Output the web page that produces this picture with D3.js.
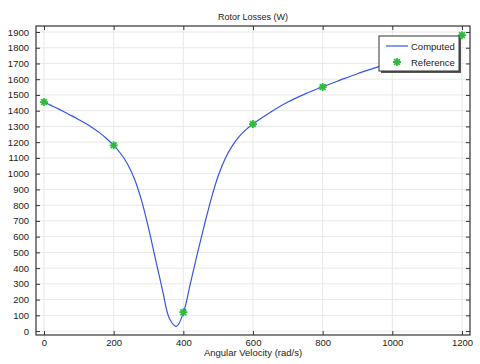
<!DOCTYPE html>
<html>
<head>
<meta charset="utf-8">
<script src="https://cdn.jsdelivr.net/npm/d3@7"></script>
<style>
  body { margin: 0; background: #fff; }
  text { font-family: "Liberation Sans", Arial, sans-serif; fill: #222; }
</style>
</head>
<body>
<div id="chart"></div>
<script>
// computed curve (rad/s -> W)
const computedX = [0, 20, 40, 60, 80, 100, 120, 140, 160, 180, 200, 220, 240, 260, 280, 300, 320, 340, 360, 380,
  400, 420, 440, 460, 480, 500, 520, 540, 560, 580, 600, 650, 700, 750, 800, 850, 900, 950, 1000, 1050, 1100, 1150, 1200];
const computedY = [1455, 1434, 1413, 1390, 1367, 1343, 1318, 1290, 1259, 1222, 1180, 1128, 1060, 965, 830, 655, 457, 262, 80, 30,
  115, 300, 490, 670, 840, 985, 1095, 1175, 1235, 1280, 1315, 1390, 1455, 1507, 1552, 1594, 1635, 1672, 1710, 1752, 1795, 1838, 1880];
// reference points
const refX = [0, 200, 400, 600, 800, 1200];
const refY = [1455, 1180, 120, 1315, 1550, 1880];

const xTicks = [0, 200, 400, 600, 800, 1000, 1200];
const yTicks = d3.range(0, 1901, 100);

const width = 480, height = 364;
const margin = {top: 26, right: 10, bottom: 29, left: 36};
const w = width - margin.left - margin.right;
const h = height - margin.top - margin.bottom;

const svg = d3.select('#chart').append('svg')
    .attr('width', width)
    .attr('height', height);

const g = svg.append('g')
    .attr('transform', 'translate(' + margin.left + ',' + margin.top + ')');

const xScale = d3.scaleLinear().domain([-23, 1223]).range([0, w]);
const yScale = d3.scaleLinear().domain([-25, 1938]).range([h, 0]);

// grid
g.append('g').selectAll('line').data(xTicks).join('line')
    .attr('x1', d => xScale(d)).attr('x2', d => xScale(d))
    .attr('y1', 0).attr('y2', h)
    .attr('stroke', '#e8e8e8');
g.append('g').selectAll('line').data(yTicks).join('line')
    .attr('x1', 0).attr('x2', w)
    .attr('y1', d => yScale(d)).attr('y2', d => yScale(d))
    .attr('stroke', '#e8e8e8');

// axes (ticks inward)
const fmt = d3.format('d');
const axisStyle = sel => {
  sel.select('.domain').remove();
  sel.selectAll('line').attr('stroke', '#333');
  sel.selectAll('text').style('font-size', '9.5px').attr('fill', '#222');
};
g.append('g').attr('transform', 'translate(0,' + h + ')')
    .call(d3.axisBottom(xScale).tickValues(xTicks).tickFormat(fmt).tickSizeInner(-4).tickPadding(4))
    .call(axisStyle);
g.append('g')
    .call(d3.axisLeft(yScale).tickValues(yTicks).tickFormat(fmt).tickSizeInner(-4).tickPadding(7))
    .call(axisStyle);
g.append('g')
    .call(d3.axisTop(xScale).tickValues(xTicks).tickFormat('').tickSizeInner(-4))
    .call(axisStyle);
g.append('g').attr('transform', 'translate(' + w + ',0)')
    .call(d3.axisRight(yScale).tickValues(yTicks).tickFormat('').tickSizeInner(-4))
    .call(axisStyle);

// frame
g.append('rect').attr('width', w).attr('height', h)
    .attr('fill', 'none').attr('stroke', '#333').attr('stroke-width', 1.2);

// clip
g.append('clipPath').attr('id', 'plotClip')
  .append('rect').attr('width', w).attr('height', h);
const plot = g.append('g').attr('clip-path', 'url(#plotClip)');

const line = d3.line()
    .x((d, i) => xScale(computedX[i]))
    .y(d => yScale(d))
    .curve(d3.curveCatmullRom.alpha(0.5));
plot.append('path').datum(computedY)
    .attr('d', line)
    .attr('fill', 'none')
    .attr('stroke', '#3355ee')
    .attr('stroke-width', 1.2);

const star = 'M-4,0L4,0M0,-4L0,4M-2.9,-2.9L2.9,2.9M-2.9,2.9L2.9,-2.9';
g.append('g').selectAll('path').data(refY).join('path')
    .attr('transform', (d, i) => 'translate(' + xScale(refX[i]) + ',' + yScale(d) + ')')
    .attr('d', star)
    .attr('stroke', '#2dbb3c')
    .attr('stroke-width', 1.8)
    .attr('fill', 'none');

// title and axis label
svg.append('text').attr('x', margin.left + w / 2).attr('y', 20)
    .attr('text-anchor', 'middle').style('font-size', '9px').text('Rotor Losses (W)');
svg.append('text').attr('x', margin.left + w / 2).attr('y', 356)
    .attr('text-anchor', 'middle').style('font-size', '9.5px').text('Angular Velocity (rad/s)');

// legend
const lg = svg.append('g').attr('transform', 'translate(379,36)');
lg.append('rect').attr('x', 2).attr('y', 2).attr('width', 80).attr('height', 35).attr('fill', '#555');
lg.append('rect').attr('width', 80).attr('height', 35).attr('fill', '#fff').attr('stroke', '#333').attr('stroke-width', 1);
lg.append('line').attr('x1', 7).attr('x2', 29).attr('y1', 10).attr('y2', 10)
    .attr('stroke', '#3355ee').attr('stroke-width', 1.2);
lg.append('text').attr('x', 32).attr('y', 13.5).style('font-size', '9.5px').text('Computed');
lg.append('path').attr('transform', 'translate(18,26)').attr('d', star)
    .attr('stroke', '#2dbb3c').attr('stroke-width', 1.8).attr('fill', 'none');
lg.append('text').attr('x', 32).attr('y', 29.5).style('font-size', '9.5px').text('Reference');
</script>
</body>
</html>
